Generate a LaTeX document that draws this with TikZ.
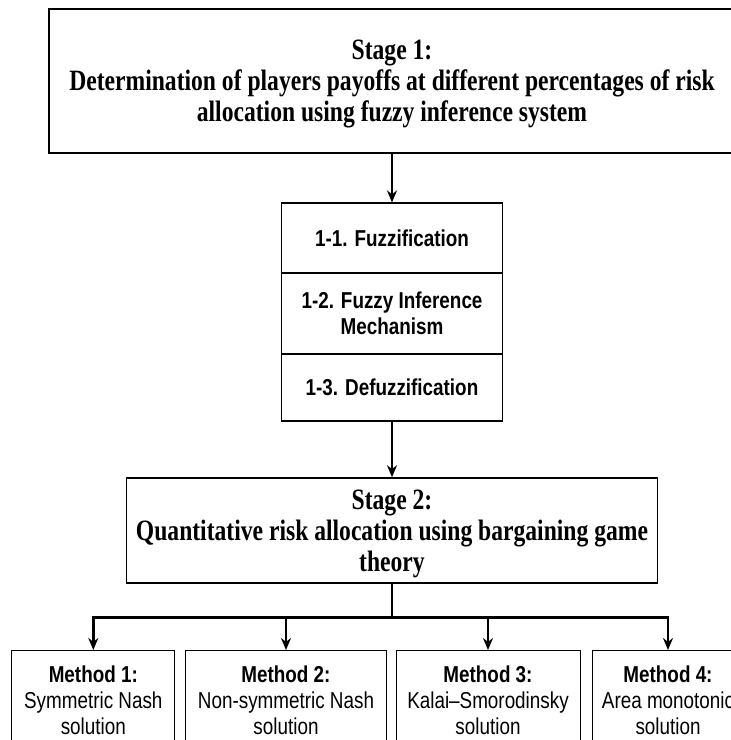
\documentclass[tikz,border=0pt]{standalone}
\usepackage{fontspec}
\setmainfont{Liberation Serif}[FakeStretch=0.8]
\newfontfamily\arialn{Liberation Sans}[FakeStretch=0.82]
\usetikzlibrary{positioning,arrows.meta}

\begin{document}
\begin{tikzpicture}[x=1pt, y=1pt,
	stagebox/.style={draw, rectangle, line width=1.6pt, align=center, text depth=0pt, font=\fontsize{29.5}{31}\selectfont\bfseries},
	subbox/.style={draw, rectangle, line width=1.2pt, minimum width=221pt, align=center, font=\arialn\fontsize{23}{26}\selectfont\bfseries},
	methbox/.style={draw, rectangle, line width=1pt, inner ysep=15pt, align=center, font=\arialn\fontsize{23}{26}\selectfont},
	flow/.style={->, >={Stealth[length=12pt, width=10pt]}, line width=2pt},
	branch/.style={->, >={Stealth[length=12pt, width=10pt]}, line width=2.8pt}]
	\useasboundingbox (0,0) rectangle (731,-740);
	\node[stagebox, minimum width=686pt, minimum height=144pt] (stage1) at (392,-81) {Stage 1:\\Determination of players payoffs at different percentages of risk\\allocation using fuzzy inference system};
	\node[subbox, minimum height=70pt, below of=stage1, node distance=157pt] (fuzz) {1-1. Fuzzification};
	\node[subbox, minimum height=81pt, below of=fuzz, node distance=75.5pt] (infer) {1-2. Fuzzy Inference\\Mechanism};
	\node[subbox, minimum height=67pt, below of=infer, node distance=74pt] (defuzz) {1-3. Defuzzification};
	\node[stagebox, minimum width=531pt, minimum height=105pt, below of=defuzz, node distance=143pt] (stage2) {Stage 2:\\Quantitative risk allocation using bargaining game\\theory};
	
	\node[methbox, minimum width=163pt, below of=stage2, node distance=119.5pt, xshift=-298.7pt, anchor=north] (meth1) {\textbf{Method 1:}\\Symmetric Nash\\solution};
	\node[methbox, minimum width=201pt, below of=stage2, node distance=119.5pt, xshift=-106pt, anchor=north] (meth2) {\textbf{Method 2:}\\Non-symmetric Nash\\solution};
	\node[methbox, minimum width=184pt, below of=stage2, node distance=119.5pt, xshift=96pt, anchor=north] (meth3) {\textbf{Method 3:}\\Kalai\textendash Smorodinsky\\solution};
	\node[methbox, minimum width=152pt, below of=stage2, node distance=119.5pt, xshift=276pt, anchor=north] (meth4) {\textbf{Method 4:}\\Area monotonic\\solution};
	
	\draw[flow] (stage1) -- (fuzz);
	\draw[flow] (defuzz) -- (stage2);
	\coordinate[below=34pt of stage2.south] (split);
	\draw[line width=2.8pt] (stage2.south) -- (split);
	\foreach \m in {meth1,meth2,meth3,meth4}
		\draw[branch] (split) -| (\m.north);
\end{tikzpicture}
\end{document}
